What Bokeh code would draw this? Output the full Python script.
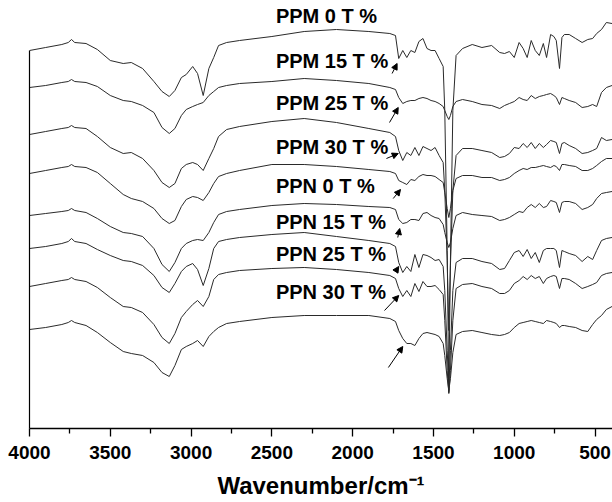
from bokeh.plotting import figure
from bokeh.models import Range1d, FixedTicker, ColumnDataSource, Arrow, NormalHead
from bokeh.core.properties import value
from bokeh.embed import file_html
from bokeh.resources import INLINE

# ---------------- data ----------------
# Wavenumber grid (cm-1) shared by all spectra
wavenumber = [
    4000, 3900, 3800, 3760, 3740, 3720, 3650, 3580, 3500, 3420,
    3370, 3300, 3230, 3180, 3135, 3100, 3060, 3030, 2990, 2960, 2925,
    2890, 2860, 2830, 2780, 2700, 2500, 2300, 2100, 1900, 1770,
    1735, 1715, 1690, 1665, 1640, 1615, 1590, 1565, 1540, 1515,
    1490, 1465, 1440, 1430, 1415, 1405, 1395, 1380, 1360, 1320,
    1260, 1200, 1140, 1090, 1060, 1030, 1000, 970, 945, 920,
    895, 870, 845, 820, 800, 775, 755, 740, 720, 705,
    690, 660, 620, 580, 545, 515, 490, 460, 430, 395,
]

# Stacked spectra, offset depth (a.u., larger = lower on the chart)
ppm_0 = [
    50, 47, 44, 42, 39, 42, 43, 49, 60, 63,
    62, 68, 81, 91, 96, 90, 77, 74, 66, 73, 95,
    68, 57, 45, 42, 40, 36, 31, 29, 31, 33,
    35, 58, 50, 57, 50, 52, 41, 38, 48, 50,
    50, 58, 66, 110, 250, 392, 260, 110, 55, 48,
    44, 47, 45, 52, 53, 51, 57, 42, 48, 57,
    40, 50, 55, 43, 57, 34, 36, 40, 68, 37,
    34, 34, 38, 42, 39, 38, 33, 29, 22, 23,
]
ppm_15 = [
    87, 85, 82, 81, 79, 81, 82, 86, 95, 100,
    101, 105, 112, 127, 133, 128, 115, 109, 106, 104, 102,
    95, 91, 87, 85, 83, 81, 78, 80, 83, 87,
    89, 97, 103, 101, 100, 100, 98, 97, 98, 100,
    101, 103, 106, 110, 116, 119, 115, 106, 101, 99,
    101, 104, 105, 108, 105, 103, 101, 97, 99, 100,
    95, 98, 96, 95, 94, 93, 95, 97, 104, 97,
    98, 100, 102, 107, 106, 104, 106, 92, 87, 85,
]
ppm_25 = [
    134, 131, 128, 127, 125, 127, 128, 136, 147, 153,
    152, 158, 170, 182, 187, 183, 168, 164, 162, 164, 170,
    158, 148, 136, 129, 126, 121, 118, 122, 128, 132,
    136, 150, 160, 152, 155, 147, 155, 146, 148, 150,
    147, 155, 162, 190, 260, 330, 265, 190, 155, 148,
    148, 150, 152, 157, 156, 153, 147, 148, 143, 147,
    142, 148, 143, 147, 144, 140, 141, 142, 153, 143,
    142, 145, 148, 153, 152, 150, 148, 137, 140, 139,
]
ppm_30 = [
    173, 170, 167, 166, 164, 166, 167, 172, 183, 194,
    198, 201, 208, 218, 223, 220, 206, 199, 196, 197, 200,
    192, 183, 176, 173, 170, 164, 164, 166, 169, 171,
    173, 180, 182, 184, 179, 180, 176, 174, 175, 175,
    176, 179, 182, 192, 208, 217, 208, 190, 178, 175,
    175, 177, 177, 180, 179, 177, 173, 170, 168, 169,
    167, 167, 166, 165, 166, 167, 165, 166, 170, 164,
    164, 165, 166, 170, 170, 168, 165, 161, 158, 158,
]
ppn_0 = [
    215, 213, 211, 210, 208, 210, 212, 218, 226, 232,
    233, 236, 248, 264, 271, 262, 248, 243, 240, 239, 240,
    232, 222, 214, 211, 209, 205, 203, 204, 206, 207,
    209, 219, 223, 222, 219, 219, 220, 213, 212, 215,
    217, 218, 224, 232, 242, 247, 242, 228, 215, 212,
    214, 215, 216, 220, 219, 217, 214, 211, 212, 207,
    204, 207, 203, 207, 206, 200, 201, 202, 212, 202,
    201, 201, 203, 209, 207, 204, 198, 193, 192, 191,
]
ppn_15 = [
    248, 246, 243, 241, 238, 241, 243, 249, 255, 260,
    261, 265, 275, 287, 292, 283, 271, 266, 263, 269, 285,
    268, 248, 241, 239, 237, 234, 232, 236, 240, 243,
    246, 262, 272, 266, 271, 254, 267, 254, 255, 257,
    260, 259, 266, 290, 350, 385, 350, 290, 262, 258,
    258, 261, 263, 269, 268, 260, 252, 250, 256, 249,
    258, 252, 262, 250, 248, 248, 248, 250, 267, 250,
    251, 253, 255, 261, 256, 259, 250, 240, 238, 237,
]
ppn_25 = [
    286, 283, 280, 279, 277, 279, 281, 287, 297, 306,
    307, 312, 324, 337, 343, 333, 317, 311, 304, 300, 306,
    296, 279, 274, 272, 270, 268, 267, 269, 272, 275,
    278, 288, 296, 290, 296, 283, 291, 281, 286, 286,
    285, 289, 294, 320, 370, 393, 370, 320, 288, 284,
    283, 286, 288, 293, 293, 290, 283, 280, 276, 279,
    275, 278, 276, 283, 278, 276, 275, 276, 288, 278,
    278, 279, 283, 288, 286, 284, 282, 275, 273, 272,
]
ppn_30 = [
    329, 327, 324, 322, 320, 322, 325, 332, 342, 351,
    353, 355, 362, 372, 376, 365, 349, 346, 343, 340, 346,
    336, 331, 327, 323, 321, 317, 315, 315, 315, 318,
    321, 330, 338, 343, 343, 345, 338, 333, 332, 333,
    334, 336, 343, 355, 378, 390, 378, 352, 334, 331,
    330, 332, 334, 335, 334, 332, 327, 323, 322, 321,
    320, 321, 322, 323, 320, 321, 322, 323, 327, 325,
    325, 326, 327, 330, 331, 324, 319, 315, 309, 306,
]

series = [ppm_0, ppm_15, ppm_25, ppm_30, ppn_0, ppn_15, ppn_25, ppn_30]
series_names = ["PPM 0 T %", "PPM 15 T %", "PPM 25 T %", "PPM 30 T %",
                "PPN 0 T %", "PPN 15 T %", "PPN 25 T %", "PPN 30 T %"]

x_ticks = [4000, 3500, 3000, 2500, 2000, 1500, 1000, 500]
x_minor_ticks = [3750, 3250, 2750, 2250, 1750, 1250, 750]

# ---------------- layout / style ----------------
FONT = "Liberation Sans"

p = figure(width=612, height=502,
           x_range=Range1d(4000, 392), y_range=Range1d(428, 0),
           output_backend="svg", toolbar_location=None,
           min_border_left=29, min_border_right=0,
           min_border_top=0, min_border_bottom=74)
p.outline_line_color = None
p.background_fill_color = "white"
p.border_fill_color = "white"
p.xgrid.visible = False
p.ygrid.visible = False

xa = p.xaxis[0]
xa.ticker = FixedTicker(ticks=x_ticks, minor_ticks=x_minor_ticks)
xa.axis_line_color = "black"
xa.axis_line_width = 1.3
xa.major_tick_line_color = "black"
xa.major_tick_line_width = 1.3
xa.minor_tick_line_color = "black"
xa.minor_tick_line_width = 1.3
xa.major_tick_in = 0
xa.major_tick_out = 8
xa.minor_tick_in = 0
xa.minor_tick_out = 5
xa.major_label_standoff = 9
xa.major_label_text_font = FONT
xa.major_label_text_font_style = "bold"
xa.major_label_text_font_size = "19px"
xa.major_label_text_color = "black"
xa.axis_label = "Wavenumber/cm\u207b\u00b9"
xa.axis_label_standoff = 10
xa.axis_label_text_font = FONT
xa.axis_label_text_font_style = "bold"
xa.axis_label_text_font_size = "24px"
xa.axis_label_text_color = "black"

ya = p.yaxis[0]
ya.ticker = FixedTicker(ticks=[])
ya.major_tick_line_color = None
ya.minor_tick_line_color = None
ya.major_label_text_font_size = "0px"
ya.axis_line_color = "black"
ya.axis_line_width = 1.2
ya.bounds = (50, 428)

for vals in series:
    p.line(wavenumber, vals, line_color="#2a2a2a", line_width=1)

# curve labels
label_wn = 2475
label_y = [15, 60, 102, 146, 185, 221, 253, 291]
src = ColumnDataSource(dict(x=[label_wn] * len(series_names), y=label_y, text=series_names))
p.text(x="x", y="y", text="text", source=src,
       text_font=value(FONT), text_font_style="bold", text_font_size="20px",
       text_color="black", text_align="left", text_baseline="middle")

# arrows marking the ~1720 cm-1 band
arrows = [
    (1756, 73, 1725, 63),
    (1772, 122, 1718, 107),
    (1791, 158, 1718, 153),
    (1749, 198, 1704, 189),
    (1721, 237, 1709, 228),
    (1735, 271, 1715, 266),
    (1803, 310, 1715, 295),
    (1779, 367, 1690, 346),
]
for xs, ys, xe, ye in arrows:
    p.add_layout(Arrow(x_start=xs, y_start=ys, x_end=xe, y_end=ye,
                       line_color="black", line_width=1,
                       end=NormalHead(size=6, fill_color="black", line_color="black")))

open("out.html", "w").write(file_html(p, INLINE))
